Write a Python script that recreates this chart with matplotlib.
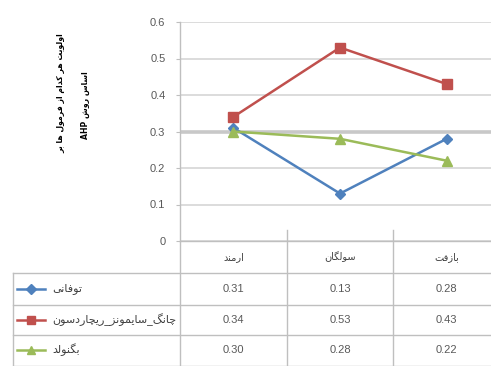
import re
import matplotlib
matplotlib.use("Agg")
import matplotlib.pyplot as plt
from matplotlib.lines import Line2D
from matplotlib.transforms import blended_transform_factory

# Persian letters -> (isolated, final, initial, medial) presentation forms
FORMS = {
    'ا': ('\uFE8D', '\uFE8E', None, None),
    'ب': ('\uFE8F', '\uFE90', '\uFE91', '\uFE92'),
    'ت': ('\uFE95', '\uFE96', '\uFE97', '\uFE98'),
    'د': ('\uFEA9', '\uFEAA', None, None),
    'ر': ('\uFEAD', '\uFEAE', None, None),
    'ز': ('\uFEAF', '\uFEB0', None, None),
    'س': ('\uFEB1', '\uFEB2', '\uFEB3', '\uFEB4'),
    'ش': ('\uFEB5', '\uFEB6', '\uFEB7', '\uFEB8'),
    'ف': ('\uFED1', '\uFED2', '\uFED3', '\uFED4'),
    'ل': ('\uFEDD', '\uFEDE', '\uFEDF', '\uFEE0'),
    'م': ('\uFEE1', '\uFEE2', '\uFEE3', '\uFEE4'),
    'ن': ('\uFEE5', '\uFEE6', '\uFEE7', '\uFEE8'),
    'ه': ('\uFEE9', '\uFEEA', '\uFEEB', '\uFEEC'),
    'و': ('\uFEED', '\uFEEE', None, None),
    'ی': ('\uFBFC', '\uFBFD', '\uFBFE', '\uFBFF'),
    'ک': ('\uFB8E', '\uFB8F', '\uFB90', '\uFB91'),
    'گ': ('\uFB92', '\uFB93', '\uFB94', '\uFB95'),
    'چ': ('\uFB7A', '\uFB7B', '\uFB7C', '\uFB7D'),
}


def shape(text):
    out = []
    for i, ch in enumerate(text):
        if ch not in FORMS:
            out.append(ch)
            continue
        prev = text[i - 1] if i > 0 else ''
        nxt = text[i + 1] if i + 1 < len(text) else ''
        joins_prev = prev in FORMS and FORMS[prev][2] is not None
        joins_next = FORMS[ch][2] is not None and nxt in FORMS
        iso, fin, ini, med = FORMS[ch]
        if joins_prev and joins_next:
            out.append(med)
        elif joins_prev:
            out.append(fin)
        elif joins_next:
            out.append(ini)
        else:
            out.append(iso)
    return ''.join(out)


def rtl(text):
    # shape, then lay out right-to-left, keeping latin runs readable
    vis = shape(text)[::-1]
    return re.sub(r'[A-Za-z0-9.]+', lambda m: m.group(0)[::-1], vis)


categories = ['ارمند', 'سولگان', 'بازفت']
series_names = ['توفانی', 'چانگ_سایمونز_ریچاردسون', 'بگنولد']
toufani = [0.31, 0.13, 0.28]
chang = [0.34, 0.53, 0.43]
bagnold = [0.30, 0.28, 0.22]
series_values = [toufani, chang, bagnold]
colors = ['#4F81BD', '#C0504D', '#9BBB59']
markers = ['D', 's', '^']
msizes = [5.5, 7, 6.5]
y_label_lines = ['اولویت هر کدام از فرمول ها بر', 'اساس روش AHP']

W, H = 491, 366
fig = plt.figure(figsize=(W / 100, H / 100), dpi=100)


def fx(px):
    return px / W


def fy(py):
    return 1 - py / H


ax = fig.add_axes([fx(180), fy(241), fx(500) - fx(180), fy(22) - fy(241)])
ax.set_xlim(-0.5, 2.5)
ax.set_ylim(0, 0.6)
ax.set_yticks([0, 0.1, 0.2, 0.3, 0.4, 0.5, 0.6])
ax.set_yticklabels(['0', '0.1', '0.2', '0.3', '0.4', '0.5', '0.6'],
                   fontfamily='Liberation Sans', fontsize=8, color='#595959')
ax.tick_params(axis='y', length=3, color='#BFBFBF', pad=7.5)
ax.set_xticks([])
ax.yaxis.grid(True, color='#D9D9D9', lw=1.3)
ax.set_axisbelow(True)
ax.axhline(0.3, color='#C8C8C8', lw=2.6, zorder=1)
for side in ['top', 'right']:
    ax.spines[side].set_visible(False)
for side in ['left', 'bottom']:
    ax.spines[side].set_color('#BFBFBF')
    ax.spines[side].set_linewidth(1.0)

x = range(len(categories))
for vals, c, m, ms in zip(series_values, colors, markers, msizes):
    ax.plot(x, vals, color=c, lw=1.8, marker=m, markersize=ms,
            markerfacecolor=c, markeredgecolor=c, zorder=3)

# rotated two-line axis title
for px, py, line in zip([61, 85], [93, 105], y_label_lines):
    fig.text(fx(px), fy(py), rtl(line), rotation=90, ha='center', va='center',
             fontsize=5.6, fontweight='bold', color='black', fontfamily='DejaVu Sans')

# data table under the plot
grid_c = '#BFBFBF'
tx = blended_transform_factory(ax.transData, fig.transFigure)
for b in [0.5, 1.5]:
    fig.add_artist(Line2D([b, b], [fy(366), fy(230)], transform=tx, color=grid_c, lw=1.0))
fig.add_artist(Line2D([fx(180), fx(180)], [fy(366), fy(241)], color=grid_c, lw=1.0))
fig.add_artist(Line2D([fx(13), fx(13)], [fy(366), fy(273)], color=grid_c, lw=1.0))
for py in [273, 305, 335, 365.5]:
    fig.add_artist(Line2D([fx(13), 1], [fy(py), fy(py)], color=grid_c, lw=1.0))

for i, cat in enumerate(categories):
    fig.text(i, fy(257), rtl(cat), transform=tx, ha='center', va='center',
             fontsize=7, color='#404040', fontfamily='DejaVu Sans')

row_y = [289, 320, 350]
for ry, name, vals, c, m, ms in zip(row_y, series_names, series_values, colors, markers, msizes):
    fig.add_artist(Line2D([fx(17), fx(45)], [fy(ry), fy(ry)], color=c, lw=1.8))
    fig.add_artist(Line2D([fx(31)], [fy(ry)], marker=m, markersize=ms * 0.9,
                          color=c, markerfacecolor=c, markeredgecolor=c))
    fig.text(fx(52), fy(ry), rtl(name), ha='left', va='center', fontsize=8.0,
             color='#404040', fontfamily='DejaVu Sans')
    for i, v in enumerate(vals):
        fig.text(i, fy(ry), f'{v:.2f}', transform=tx, ha='center', va='center',
                 fontsize=8, color='#595959', fontfamily='Liberation Sans')

fig.savefig('out.png', dpi=100)
